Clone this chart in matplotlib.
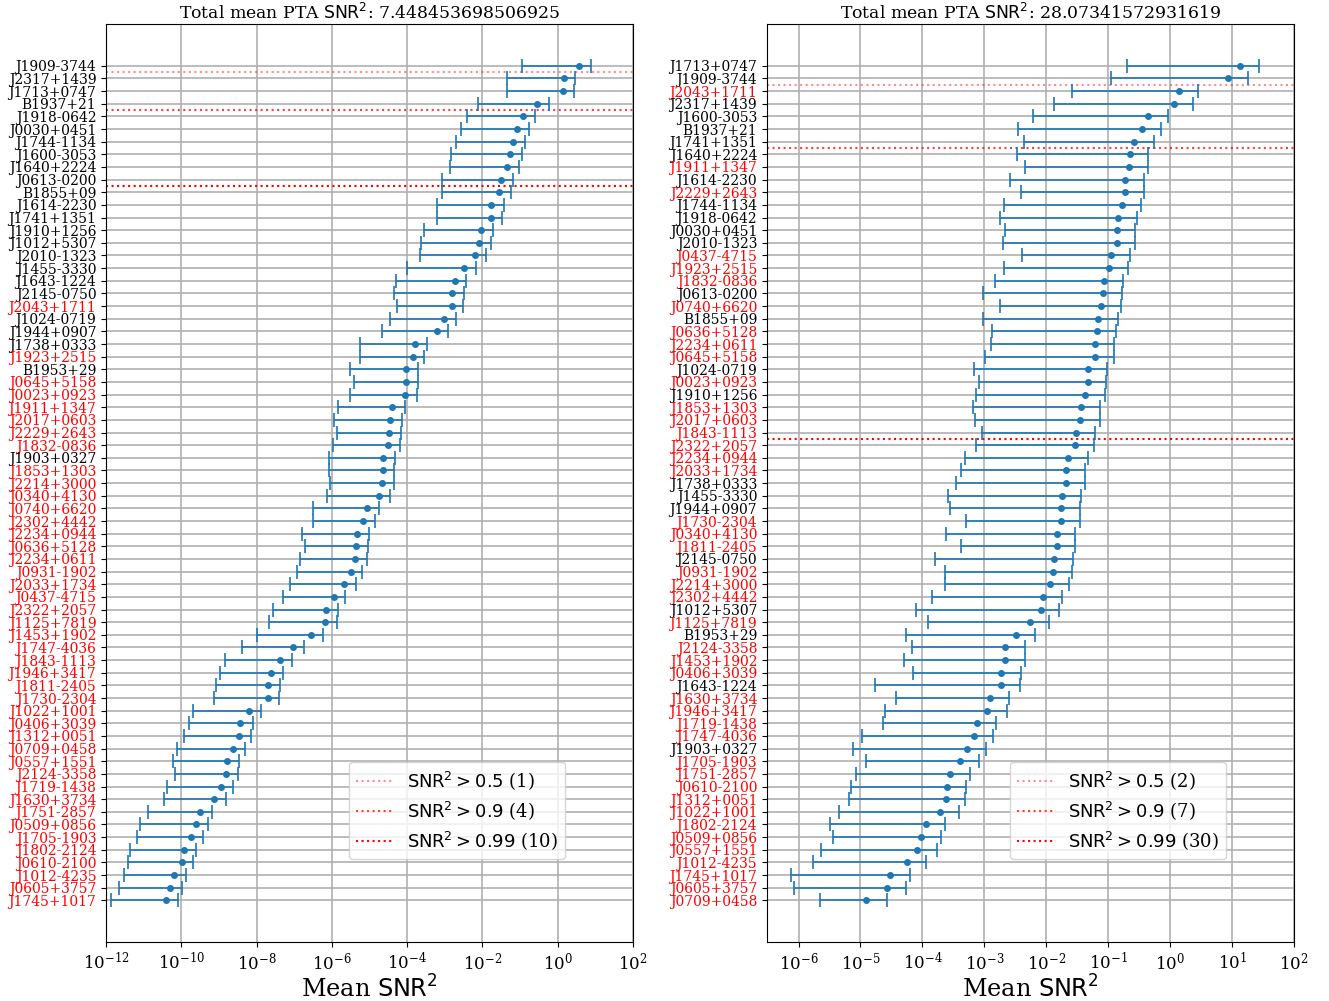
import numpy as np
import matplotlib
matplotlib.use("Agg")
import matplotlib.pyplot as plt

plt.rcParams["font.family"] = "serif"

# pulsars already in the older arrays get black labels, the rest red
old_pulsars = [
    "J1909-3744", "J2317+1439", "J1713+0747", "B1937+21", "J1918-0642",
    "J0030+0451", "J1744-1134", "J1600-3053", "J1640+2224", "J0613-0200",
    "B1855+09", "J1614-2230", "J1741+1351", "J1910+1256", "J1012+5307",
    "J2010-1323", "J1455-3330", "J1643-1224", "J2145-0750", "J1024-0719",
    "J1944+0907", "J1738+0333", "B1953+29", "J1903+0327",
]

# ---- left panel ----
left_names = [
    "J1909-3744", "J2317+1439", "J1713+0747", "B1937+21", "J1918-0642",
    "J0030+0451", "J1744-1134", "J1600-3053", "J1640+2224", "J0613-0200",
    "B1855+09", "J1614-2230", "J1741+1351", "J1910+1256", "J1012+5307",
    "J2010-1323", "J1455-3330", "J1643-1224", "J2145-0750", "J2043+1711",
    "J1024-0719", "J1944+0907", "J1738+0333", "J1923+2515", "B1953+29",
    "J0645+5158", "J0023+0923", "J1911+1347", "J2017+0603", "J2229+2643",
    "J1832-0836", "J1903+0327", "J1853+1303", "J2214+3000", "J0340+4130",
    "J0740+6620", "J2302+4442", "J2234+0944", "J0636+5128", "J2234+0611",
    "J0931-1902", "J2033+1734", "J0437-4715", "J2322+2057", "J1125+7819",
    "J1453+1902", "J1747-4036", "J1843-1113", "J1946+3417", "J1811-2405",
    "J1730-2304", "J1022+1001", "J0406+3039", "J1312+0051", "J0709+0458",
    "J0557+1551", "J2124-3358", "J1719-1438", "J1630+3734", "J1751-2857",
    "J0509+0856", "J1705-1903", "J1802-2124", "J0610-2100", "J1012-4235",
    "J0605+3757", "J1745+1017",
]
# log10 of mean SNR^2 and of the lower / upper ends of the bars
left_log_mean = [
    0.57, 0.16, 0.13, -0.55, -0.91, -1.08, -1.19, -1.27, -1.36, -1.52,
    -1.56, -1.76, -1.78, -2.03, -2.09, -2.21, -2.48, -2.74, -2.81, -2.82,
    -3.02, -3.22, -3.78, -3.85, -4.02, -4.03, -4.05, -4.39, -4.46, -4.48,
    -4.51, -4.64, -4.65, -4.67, -4.76, -5.07, -5.17, -5.33, -5.35, -5.39,
    -5.50, -5.67, -5.95, -6.15, -6.17, -6.55, -7.04, -7.38, -7.61, -7.69,
    -7.71, -8.21, -8.43, -8.46, -8.63, -8.79, -8.81, -8.94, -9.12, -9.50,
    -9.61, -9.74, -9.94, -9.99, -10.19, -10.29, -10.40,
]
left_log_low = [
    -0.96, -1.34, -1.36, -2.12, -2.40, -2.56, -2.71, -2.83, -2.86, -3.08,
    -3.08, -3.20, -3.21, -3.54, -3.62, -3.66, -4.01, -4.30, -4.34, -4.27,
    -4.45, -4.66, -5.25, -5.26, -5.52, -5.40, -5.51, -5.85, -5.94, -5.87,
    -5.97, -6.07, -6.09, -6.04, -6.12, -6.50, -6.51, -6.80, -6.71, -6.86,
    -6.93, -7.11, -7.31, -7.57, -7.68, -7.99, -8.40, -8.84, -8.98, -9.09,
    -9.12, -9.68, -9.80, -9.94, -10.12, -10.23, -10.18, -10.39, -10.47, -10.89,
    -11.09, -11.18, -11.36, -11.43, -11.52, -11.65, -11.87,
]
left_log_high = [
    0.89, 0.47, 0.44, -0.24, -0.60, -0.77, -0.88, -0.96, -1.04, -1.20,
    -1.25, -1.44, -1.47, -1.71, -1.78, -1.90, -2.17, -2.43, -2.50, -2.51,
    -2.70, -2.91, -3.47, -3.54, -3.70, -3.72, -3.74, -4.07, -4.15, -4.17,
    -4.20, -4.32, -4.34, -4.35, -4.45, -4.76, -4.85, -5.02, -5.04, -5.08,
    -5.19, -5.36, -5.64, -5.84, -5.86, -6.24, -6.73, -7.07, -7.29, -7.37,
    -7.40, -7.89, -8.10, -8.15, -8.31, -8.47, -8.50, -8.63, -8.81, -9.19,
    -9.30, -9.43, -9.62, -9.68, -9.87, -9.98, -10.09,
]
left_counts = [1, 4, 10]
left_total = "7.448453698506925"

# ---- right panel ----
right_names = [
    "J1713+0747", "J1909-3744", "J2043+1711", "J2317+1439", "J1600-3053",
    "B1937+21", "J1741+1351", "J1640+2224", "J1911+1347", "J1614-2230",
    "J2229+2643", "J1744-1134", "J1918-0642", "J0030+0451", "J2010-1323",
    "J0437-4715", "J1923+2515", "J1832-0836", "J0613-0200", "J0740+6620",
    "B1855+09", "J0636+5128", "J2234+0611", "J0645+5158", "J1024-0719",
    "J0023+0923", "J1910+1256", "J1853+1303", "J2017+0603", "J1843-1113",
    "J2322+2057", "J2234+0944", "J2033+1734", "J1738+0333", "J1455-3330",
    "J1944+0907", "J1730-2304", "J0340+4130", "J1811-2405", "J2145-0750",
    "J0931-1902", "J2214+3000", "J2302+4442", "J1012+5307", "J1125+7819",
    "B1953+29", "J2124-3358", "J1453+1902", "J0406+3039", "J1643-1224",
    "J1630+3734", "J1946+3417", "J1719-1438", "J1747-4036", "J1903+0327",
    "J1705-1903", "J1751-2857", "J0610-2100", "J1312+0051", "J1022+1001",
    "J1802-2124", "J0509+0856", "J0557+1551", "J1012-4235", "J1745+1017",
    "J0605+3757", "J0709+0458",
]
right_log_mean = [
    1.12, 0.94, 0.14, 0.06, -0.35, -0.45, -0.58, -0.65, -0.66, -0.73,
    -0.73, -0.77, -0.84, -0.86, -0.86, -0.96, -0.98, -1.07, -1.08, -1.11,
    -1.16, -1.18, -1.21, -1.21, -1.32, -1.33, -1.37, -1.44, -1.45, -1.52,
    -1.54, -1.65, -1.69, -1.69, -1.75, -1.76, -1.77, -1.83, -1.83, -1.88,
    -1.89, -1.94, -2.05, -2.09, -2.26, -2.49, -2.66, -2.66, -2.73, -2.73,
    -2.91, -2.95, -3.12, -3.17, -3.28, -3.39, -3.55, -3.61, -3.62, -3.72,
    -3.95, -4.02, -4.08, -4.25, -4.52, -4.58, -4.91,
]
right_log_low = [
    -0.69, -0.95, -1.58, -1.87, -2.22, -2.45, -2.36, -2.47, -2.35, -2.59,
    -2.41, -2.69, -2.75, -2.67, -2.70, -2.40, -2.69, -2.83, -3.03, -2.75,
    -3.03, -2.87, -2.89, -2.99, -3.17, -3.09, -3.13, -3.19, -3.15, -3.04,
    -3.13, -3.31, -3.37, -3.46, -3.58, -3.55, -3.30, -3.62, -3.37, -3.79,
    -3.63, -3.63, -3.84, -4.10, -3.91, -4.27, -4.17, -4.30, -4.16, -4.76,
    -4.43, -4.61, -4.63, -4.98, -5.12, -4.91, -5.07, -5.16, -5.18, -5.35,
    -5.50, -5.45, -5.64, -5.76, -6.12, -6.08, -5.66,
]
right_log_high = [
    1.43, 1.25, 0.45, 0.37, -0.04, -0.15, -0.26, -0.35, -0.35, -0.42,
    -0.42, -0.47, -0.54, -0.56, -0.56, -0.65, -0.68, -0.76, -0.77, -0.80,
    -0.85, -0.88, -0.90, -0.90, -1.02, -1.03, -1.06, -1.13, -1.13, -1.21,
    -1.23, -1.33, -1.38, -1.38, -1.44, -1.45, -1.46, -1.53, -1.53, -1.57,
    -1.59, -1.63, -1.74, -1.79, -1.95, -2.18, -2.34, -2.35, -2.41, -2.42,
    -2.60, -2.64, -2.81, -2.86, -2.97, -3.08, -3.23, -3.30, -3.31, -3.41,
    -3.64, -3.70, -3.76, -3.95, -4.20, -4.27, -4.57,
]
right_counts = [2, 7, 30]
right_total = "28.07341572931619"

thresholds = ["0.5", "0.9", "0.99"]
threshold_alpha = [0.45, 0.75, 1.0]


def draw_panel(ax, names, log_mean, log_low, log_high, counts, total, xlim, xticks):
    y = np.arange(len(names))
    mean = 10 ** np.array(log_mean)
    low = 10 ** np.array(log_low)
    high = 10 ** np.array(log_high)
    ax.errorbar(mean, y, xerr=[mean - low, high - mean], fmt="o", color="C0",
                markersize=4, capsize=5, elinewidth=1.2, capthick=1.2, zorder=3)
    for thr, n, a in zip(thresholds, counts, threshold_alpha):
        ax.axhline(n - 0.5, color="red", alpha=a, linestyle=":", linewidth=1.5,
                   label=r"$\rm{SNR}^2 > %s$ (%d)" % (thr, n))
    ax.set_xscale("log")
    ax.set_xlim(*xlim)
    ax.set_xticks(xticks)
    ax.minorticks_off()
    ax.set_yticks(y)
    ax.set_yticklabels(names, fontsize=10)
    for lab in ax.get_yticklabels():
        lab.set_color("black" if lab.get_text() in old_pulsars else "red")
    ax.invert_yaxis()
    ax.tick_params(axis="x", labelsize=12)
    ax.grid(True, color="#b0b0b0", linewidth=1.2)
    ax.set_axisbelow(True)
    ax.set_xlabel(r"Mean $\rm{SNR}^2$", fontsize=17.28, labelpad=1)
    ax.set_title(r"Total mean PTA $\rm{SNR}^2$: " + total, fontsize=12.4, pad=4)
    ax.legend(loc="lower right", bbox_to_anchor=(0.871, 0.09), borderaxespad=0,
              fontsize=13, labelspacing=0.4)


fig = plt.figure(figsize=(13.29, 10.01), dpi=100)
ax1 = fig.add_axes([0.0798, 0.0589, 0.3965, 0.917])
ax2 = fig.add_axes([0.5771, 0.0589, 0.3966, 0.917])

draw_panel(ax1, left_names, left_log_mean, left_log_low, left_log_high,
           left_counts, left_total, (1e-12, 1e2),
           [10.0 ** k for k in range(-12, 3, 2)])
draw_panel(ax2, right_names, right_log_mean, right_log_low, right_log_high,
           right_counts, right_total, (10 ** -6.51, 1e2),
           [10.0 ** k for k in range(-6, 3)])

fig.savefig("out.png", dpi=100)
